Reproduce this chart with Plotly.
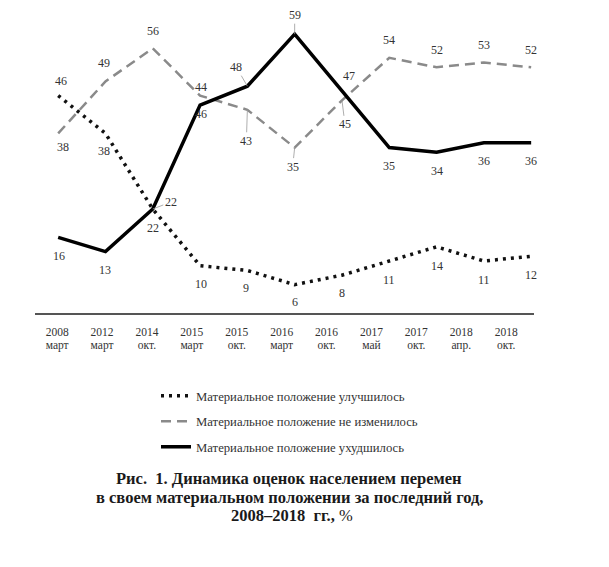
import plotly.graph_objects as go

# ---- data ----
years = ["2008", "2012", "2014", "2015", "2015", "2016", "2016", "2017", "2017", "2018", "2018"]
months = ["март", "март", "окт.", "март", "окт.", "март", "окт.", "май", "окт.", "апр.", "окт."]
improved = [46, 38, 22, 10, 9, 6, 8, 11, 14, 11, 12]
unchanged = [38, 49, 56, 46, 43, 35, 45, 54, 52, 53, 52]
worsened = [16, 13, 22, 44, 48, 59, 47, 35, 34, 36, 36]
names = ["Материальное положение улучшилось",
         "Материальное положение не изменилось",
         "Материальное положение ухудшилось"]
title_lines = ["<b>Рис.  1. Динамика оценок населением перемен</b>",
               "<b>в своем материальном положении за последний год,</b>",
               "<b>2008–2018  гг.,</b> %"]

# ---- label offsets (style): (dx, dy, leader) in px, dy positive = down ----
off_improved = [(3, -15, 0), (-1, 18, 0), (0, 19, 0), (1, 18, 0), (-1, 18, 0), (0, 17, 0),
                (0, 18, 0), (0, 19, 0), (0, 19, 0), (0, 19, 0), (0, 19, 0)]
off_unchanged = [(5, 14, 0), (-1, -18, 0), (0, -17, 0), (1, 18, 0), (-1, 31, 1), (-2, 19, 1),
                 (3, 24, 1), (0, -18, 0), (0, -17, 0), (0, -18, 0), (0, -17, 0)]
off_worsened = [(1, 19, 0), (0, 18, 0), (18, -7, 1), (1, -18, 0), (-11, -19, 1), (0, -19, 1),
                (7, -15, 0), (0, 18, 0), (0, 19, 0), (0, 18, 0), (0, 18, 0)]

SERIF = "Liberation Serif, Times New Roman, serif"
idx = list(range(len(years)))

# plot area in page pixels (page has an 8px body margin)
PX0, PX1, PY0, PY1 = 35, 534, 20, 313


def px(xp):
    return (xp - PX0) / (PX1 - PX0)


def py(yp):
    return (PY1 - yp) / (PY1 - PY0)


fig = go.Figure()
fig.add_trace(go.Scatter(x=idx, y=improved, mode="lines", name=names[0], legendgroup="a",
                         line=dict(color="#111111", width=3.5, dash="3px,5px")))
fig.add_trace(go.Scatter(x=idx, y=unchanged, mode="lines", name=names[1], legendgroup="b",
                         line=dict(color="#8a8a8a", width=2.5, dash="10px,6px")))
fig.add_trace(go.Scatter(x=idx, y=worsened, mode="lines", name=names[2], legendgroup="c",
                         line=dict(color="#000000", width=3.5)))
# invisible traces for the tick-label axes
fig.add_trace(go.Scatter(x=idx, y=[None] * len(idx), xaxis="x2", showlegend=False,
                         hoverinfo="skip"))
fig.add_trace(go.Scatter(x=idx, y=[None] * len(idx), xaxis="x3", showlegend=False,
                         hoverinfo="skip"))

annotations = []
for vals, offs in [(improved, off_improved), (unchanged, off_unchanged), (worsened, off_worsened)]:
    for i, (v, (dx, dy, lead)) in enumerate(zip(vals, offs)):
        if lead:
            annotations.append(dict(x=i, y=v, xref="x", yref="y", text=str(v),
                                    showarrow=True, arrowhead=0, arrowwidth=0.8,
                                    arrowcolor="#999999", ax=dx, ay=dy, standoff=0,
                                    font=dict(family=SERIF, size=12, color="#333333")))
        else:
            annotations.append(dict(x=i, y=v, xref="x", yref="y", text=str(v),
                                    showarrow=False, xshift=dx, yshift=-dy,
                                    font=dict(family=SERIF, size=12, color="#333333")))

for t, xpix, ypix in zip(title_lines, [289, 289, 292], [478, 498, 516]):
    annotations.append(dict(x=px(xpix), y=py(ypix), xref="paper", yref="paper",
                            text=t, showarrow=False, xanchor="center", yanchor="middle",
                            borderpad=0,
                            font=dict(family=SERIF, size=16.5, color="#1a1a1a")))

tick_axis = dict(overlaying="x", anchor="y", side="bottom", range=[-0.494, 10.62],
                 tickmode="array", tickvals=idx, showgrid=False, zeroline=False,
                 showline=False, ticks="outside", tickcolor="rgba(0,0,0,0)",
                 tickfont=dict(family=SERIF, size=11.5, color="#333333"))

fig.update_layout(
    width=593, height=551,
    margin=dict(l=PX0 - 8, r=593 - (PX1 - 8), t=PY0 - 8, b=551 - (PY1 - 8)),
    paper_bgcolor="white", plot_bgcolor="white",
    xaxis=dict(range=[-0.49, 10.06], showgrid=False, zeroline=False, showticklabels=False,
               showline=True, linecolor="#555555", linewidth=2, ticks=""),
    xaxis2=dict(tick_axis, ticktext=years, ticklen=8),
    xaxis3=dict(tick_axis, ticktext=months, ticklen=21),
    yaxis=dict(range=[0, 62], visible=False),
    showlegend=True,
    legend=dict(x=px(156), y=py(381), xanchor="left", yanchor="top",
                font=dict(family=SERIF, size=12.7, color="#333333"),
                tracegroupgap=6, bgcolor="rgba(0,0,0,0)"),
    annotations=annotations,
)

fig.write_html("out.html")
